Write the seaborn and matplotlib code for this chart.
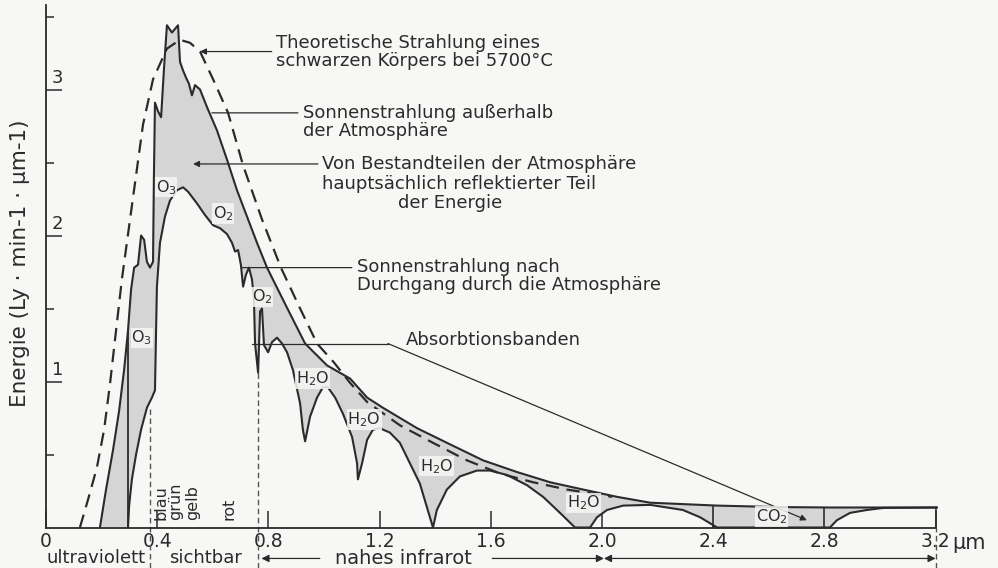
import numpy as np
import matplotlib
matplotlib.use("Agg")
import matplotlib.pyplot as plt
import seaborn as sns

sns.set_theme(style="white")
plt.rcParams["font.family"] = ["DejaVu Sans"]

# --- spectral curves (wavelength in µm, energy in Ly·min-1·µm-1) ---
# black body at 5700 °C
bb_wl = [0.122, 0.151, 0.183, 0.209, 0.230, 0.252, 0.273, 0.313, 0.349, 0.385,
         0.435, 0.482, 0.518, 0.554, 0.601, 0.655, 0.709, 0.777, 0.845, 0.914,
         0.975, 1.036, 1.094, 1.155, 1.273, 1.392, 1.514, 1.633, 1.752, 1.874,
         1.957, 2.036]
bb_e = [0.00, 0.19, 0.41, 0.67, 0.98, 1.35, 1.70, 2.26, 2.76, 3.07,
        3.28, 3.34, 3.32, 3.26, 3.07, 2.84, 2.48, 2.11, 1.78, 1.50,
        1.26, 1.13, 0.99, 0.86, 0.70, 0.58, 0.46, 0.37, 0.31, 0.26,
        0.235, 0.21]

# solar radiation outside the atmosphere
top_wl = [0.194, 0.216, 0.241, 0.263, 0.281, 0.295, 0.306, 0.317, 0.331, 0.342,
          0.353, 0.363, 0.374, 0.385, 0.388, 0.392, 0.403, 0.414, 0.424, 0.435,
          0.453, 0.475, 0.482, 0.493, 0.504, 0.514, 0.525, 0.536, 0.554, 0.579,
          0.615, 0.651, 0.687, 0.723, 0.759, 0.795, 0.863, 0.932, 1.011, 1.094,
          1.155, 1.212, 1.335, 1.453, 1.572, 1.694, 1.813, 1.932, 2.054, 2.173,
          2.414, 2.629, 2.820, 3.205]
top_e = [0.00, 0.26, 0.53, 0.80, 1.08, 1.35, 1.63, 1.78, 1.80, 2.00,
         1.97, 1.82, 1.78, 1.82, 2.38, 2.91, 2.85, 2.81, 3.13, 3.44,
         3.39, 3.44, 3.19, 3.13, 3.08, 3.04, 2.96, 3.03, 3.00, 2.88,
         2.72, 2.52, 2.31, 2.13, 1.95, 1.78, 1.52, 1.26, 1.11, 1.02,
         0.89, 0.82, 0.68, 0.57, 0.46, 0.38, 0.31, 0.26, 0.21, 0.17,
         0.15, 0.14, 0.137, 0.137]

# solar radiation after passing through the atmosphere
sfc_wl = [0.295, 0.299, 0.309, 0.324, 0.342, 0.363, 0.381, 0.392, 0.396, 0.399,
          0.410, 0.428, 0.446, 0.471, 0.493, 0.511, 0.543, 0.572, 0.601, 0.626,
          0.651, 0.669, 0.680, 0.691, 0.701, 0.709, 0.719, 0.730, 0.741, 0.748,
          0.752, 0.763, 0.770, 0.777, 0.784, 0.799, 0.813, 0.831, 0.849, 0.867,
          0.888, 0.914, 0.924, 0.932, 0.950, 0.975, 0.996, 1.014, 1.040, 1.068,
          1.101, 1.119, 1.122, 1.137, 1.155, 1.176, 1.201, 1.237, 1.273, 1.309,
          1.345, 1.381, 1.392, 1.406, 1.442, 1.489, 1.550, 1.597, 1.658, 1.730,
          1.788, 1.849, 1.903, 1.957, 1.982, 2.018, 2.076, 2.173, 2.291, 2.353,
          2.414, 2.820, 2.845, 2.892, 2.953, 3.011, 3.205]
sfc_e = [0.00, 0.15, 0.33, 0.50, 0.67, 0.82, 0.89, 0.94, 1.35, 1.65,
         1.95, 2.13, 2.24, 2.31, 2.33, 2.30, 2.22, 2.14, 2.07, 2.05,
         2.01, 1.95, 1.89, 1.90, 1.80, 1.65, 1.73, 1.78, 1.70, 1.56,
         1.26, 1.06, 1.48, 1.50, 1.25, 1.20, 1.27, 1.30, 1.26, 1.20,
         1.08, 0.85, 0.67, 0.59, 0.76, 0.89, 0.96, 0.96, 0.89, 0.78,
         0.62, 0.44, 0.33, 0.44, 0.60, 0.67, 0.68, 0.65, 0.58, 0.44,
         0.30, 0.07, 0.00, 0.12, 0.26, 0.35, 0.39, 0.39, 0.36, 0.29,
         0.21, 0.10, 0.00, 0.00, 0.07, 0.12, 0.15, 0.155, 0.12, 0.07,
         0.00, 0.00, 0.05, 0.10, 0.12, 0.134, 0.137]

x_ticks = [0, 0.4, 0.8, 1.2, 1.6, 2.0, 2.4, 2.8, 3.2]
x_ticklabels = ["0", "0.4", "0.8", "1.2", "1.6", "2.0", "2.4", "2.8", "3.2"]
y_ticks = [1, 2, 3]
y_ticklabels = ["1", "2", "3"]
y_minor = [0.5, 1.5, 2.5, 3.5]

uv_edge, red_edge = 0.374, 0.763
uv_cut = 0.295
co2_band = [2.4, 2.8]
nir_end, spec_end = 2.007, 3.2

colour_names = ["blau", "grün", "gelb", "rot"]
colour_pos = [0.412, 0.466, 0.527, 0.658]

molecules = ["O$_3$", "O$_2$", "O$_2$", "O$_3$", "H$_2$O", "H$_2$O", "H$_2$O", "H$_2$O", "CO$_2$"]
mol_x = [0.432, 0.637, 0.777, 0.345, 0.960, 1.144, 1.406, 1.935, 2.61]
mol_y = [2.33, 2.15, 1.58, 1.30, 1.02, 0.74, 0.42, 0.17, 0.075]

BG = "#f7f7f6"
INK = "#2b2b2b"
FILL = "#d5d5d5"

fig = plt.figure(figsize=(9.98, 5.68), dpi=100, facecolor=BG)
ax = fig.add_axes([0, 0, 1, 1], facecolor=BG)
ax.set_xlim(-46 / 278, (998 - 46) / 278)
ax.set_ylim(-(568 - 527.5) / 146, 527.5 / 146)

# shaded band between the two solar curves
poly_x = np.concatenate([top_wl, sfc_wl[::-1]])
poly_y = np.concatenate([top_e, sfc_e[::-1]])
ax.fill(poly_x, poly_y, color=FILL, lw=0, zorder=1)

sns.lineplot(x=top_wl, y=top_e, ax=ax, color=INK, lw=1.5, sort=False, estimator=None, zorder=3)
sns.lineplot(x=sfc_wl, y=sfc_e, ax=ax, color=INK, lw=1.5, sort=False, estimator=None, zorder=3)
bb = sns.lineplot(x=bb_wl, y=bb_e, ax=ax, color=INK, lw=1.6, sort=False, estimator=None, zorder=4)
bb.lines[-1].set_dashes((6, 3.5))

# band edges
ax.vlines([uv_cut], 0, np.interp(uv_cut, top_wl, top_e), color=INK, lw=1.3, zorder=3)
edges = co2_band + [spec_end]
ax.vlines(edges, 0, np.interp(edges, top_wl, top_e), color=INK, lw=1.2, zorder=3)
ymin = ax.get_ylim()[0]
ax.vlines([uv_edge], ymin, 0.83, color="#555555", lw=1.0, linestyles=(0, (4, 2.5)), zorder=2)
ax.vlines([red_edge], ymin, 1.06, color="#555555", lw=1.0, linestyles=(0, (4, 2.5)), zorder=2)
ax.vlines([spec_end], ymin, 0, color="#555555", lw=1.0, linestyles=(0, (4, 2.5)), zorder=2)

# axes
for s in ["top", "right"]:
    ax.spines[s].set_visible(False)
ax.spines["left"].set_position(("data", 0))
ax.spines["bottom"].set_position(("data", 0))
ax.spines["left"].set_bounds(0, 3.58)
ax.spines["bottom"].set_bounds(0, spec_end)
for s in ["left", "bottom"]:
    ax.spines[s].set_color(INK)
    ax.spines[s].set_linewidth(1.3)
    ax.spines[s].set_zorder(5)
ax.set_xticks(x_ticks)
ax.set_xticklabels(x_ticklabels)
ax.tick_params(axis="x", direction="in", length=12, width=1.1, color=INK, pad=3,
               labelsize=13.5, labelcolor=INK)
ax.set_yticks(y_ticks)
ax.set_yticklabels([])
ax.set_yticks(y_minor, minor=True)
ax.tick_params(axis="y", which="major", direction="in", length=11.5, width=1.1, color=INK)
ax.tick_params(axis="y", which="minor", direction="in", length=6, width=1.1, color=INK)
ax.yaxis.set_ticks_position("left")
ax.xaxis.set_ticks_position("bottom")
for v, lab in zip(y_ticks, y_ticklabels):
    ax.text(0.022, v + 0.015, lab, ha="left", va="bottom", fontsize=13, color=INK)
ax.text(3.26, -0.105, "µm", ha="left", va="center", fontsize=15, color=INK)
ax.text(-0.095, 1.81, "Energie (Ly · min-1 · µm-1)", rotation=90, ha="center", va="center",
        fontsize=15.5, color=INK)

# visible colours
for name, xp in zip(colour_names, colour_pos):
    ax.text(xp, 0.05, name, rotation=90, ha="center", va="bottom", fontsize=11.5, color=INK)

# absorbing gases
for lab, xp, yp in zip(molecules, mol_x, mol_y):
    ax.text(xp, yp, lab, ha="center", va="center", fontsize=11.5, color=INK, zorder=6,
            bbox=dict(boxstyle="square,pad=0.05", fc=BG, ec="none", alpha=0.85))

# callouts
arrow = dict(arrowstyle="-|>", color=INK, lw=0.9, mutation_scale=9, shrinkA=0, shrinkB=0)
plain = dict(arrowstyle="-", color=INK, lw=0.9, shrinkA=0, shrinkB=0)
tk = dict(fontsize=13, color=INK, va="center", ha="left")

ax.annotate("", xy=(0.554, 3.26), xytext=(0.812, 3.26), arrowprops=arrow)
ax.text(0.827, 3.26, "Theoretische Strahlung eines\nschwarzen Körpers bei 5700°C",
        linespacing=1.0, **tk)

ax.annotate("", xy=(0.597, 2.84), xytext=(0.906, 2.84), arrowprops=plain)
ax.text(0.924, 2.78, "Sonnenstrahlung außerhalb\nder Atmosphäre", linespacing=1.0, **tk)

ax.annotate("", xy=(0.529, 2.49), xytext=(0.978, 2.49), arrowprops=arrow)
ax.text(0.993, 2.49, "Von Bestandteilen der Atmosphäre", **tk)
ax.text(0.993, 2.355, "hauptsächlich reflektierter Teil", **tk)
ax.text(1.266, 2.22, "der Energie", **tk)

ax.annotate("", xy=(0.705, 1.78), xytext=(1.10, 1.78), arrowprops=plain)
ax.text(1.119, 1.72, "Sonnenstrahlung nach\nDurchgang durch die Atmosphäre", linespacing=1.0, **tk)

ax.plot([0.741, 1.23], [1.26, 1.26], color=INK, lw=0.9)
ax.annotate("", xy=(2.737, 0.05), xytext=(1.23, 1.26), arrowprops=arrow)
ax.text(1.295, 1.285, "Absorbtionsbanden", **tk)

# spectral ranges below the axis
yb = -0.212
ax.text(0.18, yb, "ultraviolett", ha="center", va="center", fontsize=13, color=INK)
ax.text(0.572, yb, "sichtbar", ha="center", va="center", fontsize=13, color=INK)
ax.text(1.284, yb, "nahes infrarot", ha="center", va="center", fontsize=14, color=INK)
head = dict(arrowstyle="-|>", color=INK, lw=0.9, mutation_scale=11, shrinkA=0, shrinkB=0)
rng = dict(arrowstyle="<|-|>", color=INK, lw=0.9, mutation_scale=11, shrinkA=0, shrinkB=0)
ax.annotate("", xy=(red_edge + 0.012, yb), xytext=(0.985, yb), arrowprops=head)
ax.annotate("", xy=(nir_end, yb), xytext=(1.605, yb), arrowprops=head)
ax.annotate("", xy=(nir_end, yb), xytext=(spec_end, yb), arrowprops=rng)

fig.savefig("out.png", dpi=100, facecolor=BG)
